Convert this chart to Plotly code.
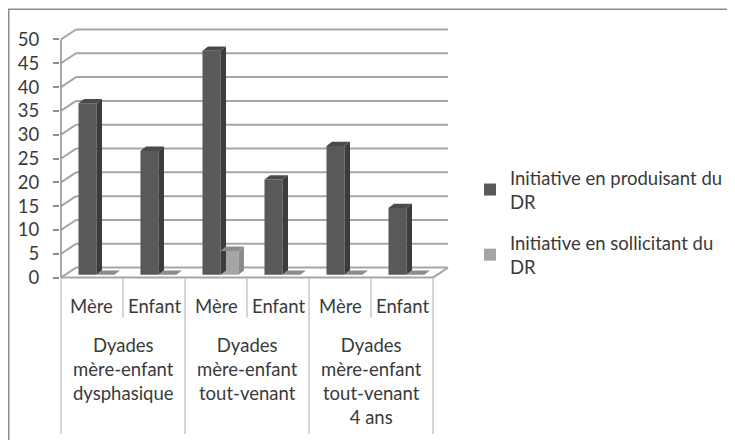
import plotly.graph_objects as go

# --- data ---
groups = [
    "Dyades<br>mère-enfant<br>dysphasique",
    "Dyades<br>mère-enfant<br>tout-venant",
    "Dyades<br>mère-enfant<br>tout-venant<br>4 ans",
]
members = ["Mère", "Enfant"]
produisant = [36, 26, 47, 20, 27, 14]
sollicitant = [0, 0, 5, 0, 0, 0]
series_names = ["Initiative en produisant du<br>DR", "Initiative en sollicitant du<br>DR"]
y_ticks = [0, 5, 10, 15, 20, 25, 30, 35, 40, 45, 50]

# --- look ---
FONT = "Lato"
FS = 18.5
TXT = "#3a3a3a"
GRID = "#a6a6a6"
DIV = "#c8c8c8"
front_col = ["#595959", "#a5a5a5"]
side_col = ["#3c3c3c", "#8a8a8a"]
top_col = ["#4a4a4a", "#8c8c8c"]

# the page body adds an 8px margin, so the figure is drawn 8px smaller
OFF = 8
W, H = 735 - OFF, 440 - OFF
ML, MR, MT, MB = 52, 285, 19.5, 160.6
XR = [-0.516, 5.774]
YR = [-0.3, 52.4]
DX, DY = 0.242, 2.09       # depth of the back wall (axis units)
BDX, BDY = 0.089, 0.9      # depth of each bar
BASE = 0.6                 # bars stand half way into the floor
BW = 0.29
offsets = [-0.218, 0.072]

n = len(produisant)
xs = list(range(n))
ph = H - MT - MB
pw = W - ML - MR


def py(px):
    # screen row -> paper y
    return (H - MB - (px - OFF)) / ph


def pxp(px):
    # figure column -> paper x
    return (px - ML) / pw


fig = go.Figure()

for s, vals in enumerate([produisant, sollicitant]):
    fig.add_trace(go.Bar(
        x=xs, y=vals, base=[BASE] * n, width=BW, offset=offsets[s],
        marker=dict(color=front_col[s], line=dict(width=0)),
        name=series_names[s], legendgroup=f"s{s}", showlegend=True,
    ))

# side and top faces of every bar
for s, vals in enumerate([produisant, sollicitant]):
    sx, sy, tx, ty = [], [], [], []
    for i, v in enumerate(vals):
        x0 = i + offsets[s]
        x1 = x0 + BW
        top = BASE + v
        if v > 0:
            sx += [x1, x1 + BDX, x1 + BDX, x1, x1, None]
            sy += [BASE, BASE + BDY, top + BDY, top, BASE, None]
        tx += [x0, x1, x1 + BDX, x0 + BDX, x0, None]
        ty += [top, top, top + BDY, top + BDY, top, None]
    fig.add_trace(go.Scatter(x=sx, y=sy, mode="lines", fill="toself", fillcolor=side_col[s],
                             line=dict(width=0), hoverinfo="skip", showlegend=False))
    fig.add_trace(go.Scatter(x=tx, y=ty, mode="lines", fill="toself", fillcolor=top_col[s],
                             line=dict(width=0), hoverinfo="skip", showlegend=False))

shapes = []
x_left, x_right = -0.5, n - 0.5
for v in y_ticks:
    # back wall gridline + side wall connector
    shapes.append(dict(type="line", xref="x", yref="y", x0=x_left + DX, x1=x_right + DX,
                       y0=v + DY, y1=v + DY, line=dict(color=GRID, width=2), layer="below"))
    shapes.append(dict(type="line", xref="x", yref="y", x0=x_left, x1=x_left + DX,
                       y0=v, y1=v + DY, line=dict(color=GRID, width=2), layer="below"))
# floor
shapes.append(dict(type="line", xref="x", yref="y", x0=x_left, x1=x_right, y0=0, y1=0,
                   line=dict(color=GRID, width=2), layer="below"))
shapes.append(dict(type="line", xref="x", yref="y", x0=x_right, x1=x_right + DX, y0=0, y1=DY,
                   line=dict(color=GRID, width=2), layer="below"))
# front value axis
shapes.append(dict(type="line", xref="x", yref="y", x0=x_left, x1=x_left, y0=0, y1=y_ticks[-1],
                   line=dict(color="#8c8c8c", width=1.5)))
# table dividers under the floor
for k in range(n + 1):
    long_line = k % len(members) == 0
    shapes.append(dict(type="line", xref="x", yref="paper", x0=k - 0.5, x1=k - 0.5,
                       y0=py(279), y1=py(435 if long_line else 318),
                       line=dict(color=DIV, width=1.5)))
# outer frame (its left and top edges are all that show)
shapes.append(dict(type="rect", xref="paper", yref="paper",
                   x0=pxp(0.75), x1=pxp(W + 10), y0=py(H + 20), y1=py(OFF + 0.75),
                   line=dict(color="#8c8c8c", width=1.5), fillcolor="rgba(0,0,0,0)"))

annotations = []
for i in range(n):
    annotations.append(dict(x=i, y=py(306), xref="x", yref="paper", text=members[i % len(members)],
                            showarrow=False, font=dict(family=FONT, size=FS, color=TXT),
                            xanchor="center", yanchor="middle"))
for g, label in enumerate(groups):
    annotations.append(dict(x=g * len(members) + 0.5, y=py(333), xref="x", yref="paper", text=label,
                            showarrow=False, font=dict(family=FONT, size=FS, color=TXT),
                            xanchor="center", yanchor="top"))

fig.update_layout(
    width=W, height=H,
    margin=dict(l=ML, r=MR, t=MT, b=MB, autoexpand=False),
    paper_bgcolor="white", plot_bgcolor="white",
    barmode="overlay",
    font=dict(family=FONT, size=FS, color=TXT),
    shapes=shapes, annotations=annotations,
    xaxis=dict(range=XR, showgrid=False, zeroline=False, showticklabels=False, ticks="",
               showline=False, fixedrange=True),
    yaxis=dict(range=YR, tickvals=y_ticks, showgrid=False, zeroline=False, showline=False,
               ticks="outside", ticklen=6, tickcolor="#8c8c8c", tickwidth=1.5,
               ticklabelstandoff=10, tickfont=dict(family=FONT, size=FS, color=TXT)),
    legend=dict(xref="container", yref="container", x=462 / W, y=1 - 151 / H,
                xanchor="left", yanchor="top", bgcolor="rgba(0,0,0,0)",
                font=dict(family=FONT, size=FS, color=TXT), tracegroupgap=14,
                itemwidth=30),
)

fig.write_html("out.html")
